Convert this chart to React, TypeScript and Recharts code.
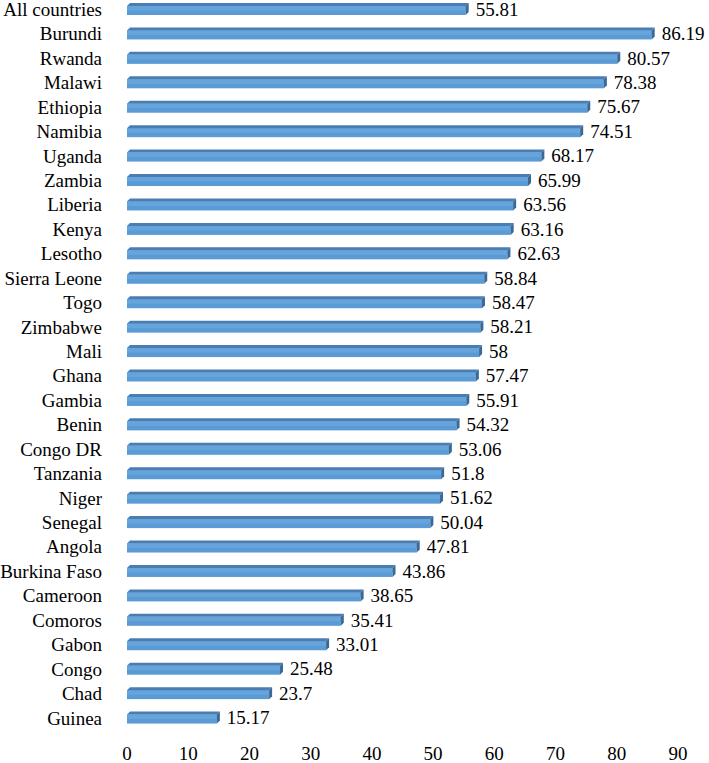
import { BarChart, Bar, XAxis, YAxis, LabelList } from 'recharts';

const countries = [
  'All countries', 'Burundi', 'Rwanda', 'Malawi', 'Ethiopia', 'Namibia', 'Uganda', 'Zambia',
  'Liberia', 'Kenya', 'Lesotho', 'Sierra Leone', 'Togo', 'Zimbabwe', 'Mali', 'Ghana', 'Gambia',
  'Benin', 'Congo DR', 'Tanzania', 'Niger', 'Senegal', 'Angola', 'Burkina Faso', 'Cameroon',
  'Comoros', 'Gabon', 'Congo', 'Chad', 'Guinea',
];

const scores = [
  55.81, 86.19, 80.57, 78.38, 75.67, 74.51, 68.17, 65.99, 63.56, 63.16, 62.63, 58.84, 58.47,
  58.21, 58, 57.47, 55.91, 54.32, 53.06, 51.8, 51.62, 50.04, 47.81, 43.86, 38.65, 35.41, 33.01,
  25.48, 23.7, 15.17,
];

const xTicks = [0, 10, 20, 30, 40, 50, 60, 70, 80, 90];

const data = countries.map((name, i) => ({ name, value: scores[i] }));

const font = "'Times New Roman', 'Liberation Serif', serif";

// bar with a thin top face and right side, like the 3-D office chart
function Bar3D(props: any) {
  const { x, y, width, height } = props;
  if (width <= 0) return null;
  const d = 3;
  return (
    <g>
      <rect x={x} y={y + d} width={width - d} height={height - d} fill="#5b9bd5" />
      <rect x={x} y={y + d} width={width - d} height={(height - d) / 2} fill="#66a5dc" />
      <polygon
        points={`${x},${y + d} ${x + d},${y} ${x + width},${y} ${x + width - d},${y + d}`}
        fill="#4a7db3"
      />
      <polygon
        points={`${x + width - d},${y + d} ${x + width},${y} ${x + width},${y + height - d} ${x + width - d},${y + height}`}
        fill="#3b6894"
      />
    </g>
  );
}

const tickStyle = { fill: '#000', fontSize: 19, fontFamily: font };

export default function App() {
  return (
    <div style={{ position: 'absolute', left: 0, top: -3, fontFamily: font }}>
      <BarChart
        width={709}
        height={767}
        data={data}
        layout="vertical"
        margin={{ top: 0, right: 31, bottom: 0, left: 0 }}
        style={{ fontFamily: font }}
      >
        <XAxis
          type="number"
          domain={[0, 90]}
          ticks={xTicks}
          axisLine={false}
          tickLine={false}
          tickSize={0}
          tickMargin={17}
          height={34}
          interval={0}
          tick={tickStyle}
        />
        <YAxis
          type="category"
          dataKey="name"
          width={127}
          axisLine={false}
          tickLine={false}
          tickSize={0}
          tickMargin={25}
          interval={0}
          tick={tickStyle}
        />
        <Bar dataKey="value" barSize={12} shape={<Bar3D />} isAnimationActive={false}>
          <LabelList
            dataKey="value"
            position="right"
            offset={7}
            fill="#000"
            fontSize={19}
            fontFamily={font}
          />
        </Bar>
      </BarChart>
    </div>
  );
}
